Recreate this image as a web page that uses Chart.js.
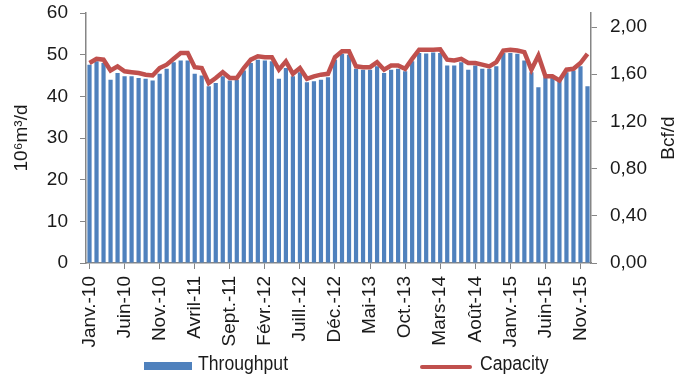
<!DOCTYPE html>
<html>
<head>
<meta charset="utf-8">
<script src="https://cdn.jsdelivr.net/npm/chart.js@4"></script>
<style>
  html, body { margin: 0; padding: 0; background: #fff; }
  #wrap { position: relative; width: 685px; height: 390px; font-family: 'Liberation Sans', Arial, sans-serif; }
  #chart { position: absolute; left: 0; top: 0; }
  .legend-item { position: absolute; font-size: 20px; color: #1a1a1a; line-height: 20px; white-space: nowrap;
                 transform: scaleX(0.88); transform-origin: left center; }
  .swatch { position: absolute; }
</style>
</head>
<body>
<div id="wrap">
  <canvas id="chart" width="685" height="390"></canvas>
  <div class="swatch" style="left:144px;top:362px;width:48px;height:8px;background:#4F81BD;"></div>
  <div class="legend-item" style="left:198px;top:353px;">Throughput</div>
  <div class="swatch" style="left:420px;top:365px;width:52px;height:4px;border-radius:2px;background:#C0504D;"></div>
  <div class="legend-item" style="left:480px;top:353px;">Capacity</div>
</div>
<script>
// Mois (libellés français) et années couvertes
const months = ['Janv.', 'Févr.', 'Mars', 'Avril', 'Mai', 'Juin', 'Juill.', 'Août', 'Sept.', 'Oct.', 'Nov.', 'Déc.'];
const years = ['10', '11', '12', '13', '14', '15'];

// Débit mensuel, 10^6 m3/d
const throughput = [
  47.6, 48.4, 48.0, 44.0, 45.6, 44.8, 44.8, 44.4, 44.2, 43.8, 45.4, 46.6,
  48.2, 48.6, 48.6, 45.4, 45.0, 42.4, 43.2, 44.8, 43.8, 44.0, 46.2, 48.0,
  48.8, 48.6, 48.4, 44.2, 46.8, 44.8, 45.8, 43.4, 43.6, 44.0, 44.6, 48.8,
  50.2, 50.0, 46.6, 46.4, 46.4, 47.2, 45.6, 46.4, 46.6, 46.0, 48.4, 50.4,
  50.3, 50.5, 50.4, 47.4, 47.4, 48.2, 46.4, 47.4, 46.6, 46.6, 47.2, 50.4,
  50.4, 50.2, 48.6, 45.8, 42.2, 44.6, 44.5, 43.8, 45.8, 46.2, 47.2, 42.4
];

// Capacité mensuelle, 10^6 m3/d
const capacity = [
  48.0, 49.0, 48.8, 46.2, 47.2, 46.0, 45.8, 45.6, 45.2, 45.0, 46.8, 47.6,
  49.0, 50.4, 50.4, 47.0, 46.8, 43.2, 44.4, 45.8, 44.4, 44.4, 46.8, 48.8,
  49.6, 49.4, 49.4, 46.4, 48.4, 45.4, 46.8, 44.2, 44.8, 45.2, 45.4, 49.4,
  50.8, 50.8, 47.2, 47.0, 47.0, 48.2, 46.4, 47.4, 47.4, 46.6, 49.0, 51.2,
  51.2, 51.2, 51.3, 48.8, 48.6, 49.0, 48.0, 48.0, 47.6, 47.2, 48.2, 51.0,
  51.2, 51.0, 50.6, 46.4, 49.8, 44.8, 44.8, 43.8, 46.4, 46.6, 48.0, 50.2
];

const leftMax = 60;
const M3_TO_BCF = 0.0353147; // 10^6 m3/d -> Bcf/d

const labels = [];
years.forEach(y => months.forEach(m => labels.push(m + '-' + y)));

const axisGrey = '#868686';
const textColor = '#1a1a1a';
const font = { family: "'Liberation Sans', Arial, sans-serif", size: 19 };

// Titres des axes verticaux (lus de bas en haut)
const axisTitles = {
  id: 'axisTitles',
  afterDraw(chart) {
    const { ctx, chartArea } = chart;
    const midY = (chartArea.top + chartArea.bottom) / 2;
    ctx.save();
    ctx.fillStyle = textColor;
    ctx.font = "19px 'Liberation Sans', Arial, sans-serif";
    ctx.textAlign = 'center';
    ctx.textBaseline = 'middle';
    [[22, '10⁶m³/d'], [669, 'Bcf/d']].forEach(([x, txt]) => {
      ctx.save();
      ctx.translate(x, midY);
      ctx.rotate(-Math.PI / 2);
      ctx.fillText(txt, 0, 0);
      ctx.restore();
    });
    ctx.restore();
  }
};

// largeur fixe des axes Y, sans marge verticale ajoutée par les libellés
const fitY = (width) => (s) => {
  s.width = width;
  s.paddingTop = 0;
  s.paddingBottom = 0;
};

new Chart(document.getElementById('chart'), {
  type: 'bar',
  data: {
    labels: labels,
    datasets: [
      {
        type: 'line',
        label: 'Capacity',
        data: capacity,
        yAxisID: 'y',
        borderColor: '#C0504D',
        borderWidth: 4.5,
        pointRadius: 0,
        tension: 0,
        fill: false,
        order: 0
      },
      {
        type: 'bar',
        label: 'Throughput',
        data: throughput,
        yAxisID: 'y',
        backgroundColor: '#4F81BD',
        barPercentage: 0.6,
        categoryPercentage: 1.0,
        order: 1
      }
    ]
  },
  options: {
    responsive: false,
    animation: false,
    layout: { padding: { top: 13, bottom: 35, left: 0, right: 0 } },
    plugins: { legend: { display: false }, tooltip: { enabled: false } },
    scales: {
      x: {
        grid: {
          offset: false,
          drawOnChartArea: false,
          tickLength: 6,
          color: (c) => (c.index % 5 === 0 ? axisGrey : 'transparent')
        },
        border: { color: axisGrey, width: 1.5 },
        ticks: {
          autoSkip: false,
          maxRotation: 90,
          minRotation: 90,
          color: textColor,
          font: font,
          padding: 7,
          callback: (v, i) => (i % 5 === 0 ? labels[i] : '')
        },
        afterFit: (s) => { s.height = 92; s.paddingLeft = 0; s.paddingRight = 0; }
      },
      y: {
        position: 'left',
        min: 0,
        max: leftMax,
        grid: { drawOnChartArea: false, tickLength: 6, color: axisGrey },
        border: { color: axisGrey, width: 1.5 },
        ticks: { stepSize: 10, color: textColor, font: font, padding: 12 },
        afterFit: fitY(86)
      },
      y2: {
        position: 'right',
        min: 0,
        max: leftMax * M3_TO_BCF,
        grid: { drawOnChartArea: false, tickLength: 6, color: axisGrey },
        border: { color: axisGrey, width: 1.5 },
        ticks: {
          stepSize: 0.4,
          includeBounds: false,
          color: textColor,
          font: font,
          padding: 13,
          callback: (v) => v.toFixed(2).replace('.', ',')
        },
        afterFit: fitY(94)
      }
    }
  },
  plugins: [axisTitles]
});
</script>
</body>
</html>
